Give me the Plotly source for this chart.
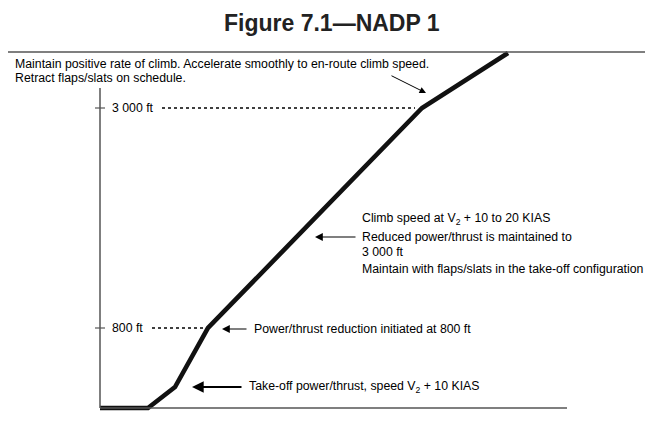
import plotly.graph_objects as go

# Profile data (distance in arbitrary units, altitude in ft)
distance = [0, 48, 75, 108, 322, 408]
altitude = [0, 0, 210, 800, 3000, 3550]

tick_alts = [800, 3000]
tick_labels = ["800 ft", "3 000 ft"]
dot_start = [52, 62]
dot_end = [105, 315]

top_lines = ["Maintain positive rate of climb. Accelerate smoothly to en-route climb speed.",
             "Retract flaps/slats on schedule."]
top_line_alt = [3440, 3300]

right_lines = ["Climb speed at V<sub>2</sub> + 10 to 20 KIAS",
               "Reduced power/thrust is maintained to",
               "3 000 ft",
               "Maintain with flaps/slats in the take-off configuration"]
right_line_alt = [1890, 1710, 1560, 1390]

FONT = "Liberation Sans, Arial, sans-serif"
FS = 12.3
AX = "#555555"

fig = go.Figure()

# dotted reference lines
for a, s, e in zip(tick_alts, dot_start, dot_end):
    fig.add_trace(go.Scatter(x=[s, e], y=[a, a], mode="lines",
                             line=dict(color="black", width=1.5, dash="3px,3px"),
                             hoverinfo="skip", showlegend=False))

# profile
fig.add_trace(go.Scatter(x=distance, y=altitude, mode="lines",
                         line=dict(color="#111111", width=4.6),
                         showlegend=False, hoverinfo="skip"))

shapes = []
# border box
shapes.append(dict(type="line", x0=-93, x1=561, y0=3560, y1=3560, line=dict(color=AX, width=1.3)))
shapes.append(dict(type="line", x0=-93, x1=-93, y0=3560, y1=-150, line=dict(color=AX, width=1.3)))
# axes
shapes.append(dict(type="line", x0=0, x1=0, y0=0, y1=3200, line=dict(color=AX, width=1.5)))
shapes.append(dict(type="line", x0=0, x1=467, y0=0, y1=0, line=dict(color=AX, width=1.5)))
for a in tick_alts:
    shapes.append(dict(type="line", x0=-5, x1=5, y0=a, y1=a, line=dict(color=AX, width=1.2)))

txt = dict(size=FS, color="black", family=FONT)
ann = []
for a, t in zip(tick_alts, tick_labels):
    ann.append(dict(x=10, y=a, text=t, showarrow=False, xanchor="left", yanchor="middle", font=txt))

for a, t in zip(top_line_alt, top_lines):
    ann.append(dict(x=-87, y=a, text=t, showarrow=False, xanchor="left", yanchor="middle", font=txt))
ann.append(dict(x=326, y=3150, ax=290, ay=3330, axref="x", ayref="y", text="", showarrow=True,
                arrowhead=2, arrowsize=1.3, arrowwidth=1, arrowcolor="black"))

for a, t in zip(right_line_alt, right_lines):
    ann.append(dict(x=260, y=a, text=t, showarrow=False, xanchor="left", yanchor="middle", font=txt))
ann.append(dict(x=215, y=1710, ax=257, ay=1710, axref="x", ayref="y", text="", showarrow=True,
                arrowhead=2, arrowsize=1.3, arrowwidth=1.2, arrowcolor="black"))

ann.append(dict(x=152, y=790, xanchor="left", yanchor="middle", showarrow=False,
                text="Power/thrust reduction initiated at 800 ft", font=txt))
ann.append(dict(x=122, y=790, ax=148, ay=790, axref="x", ayref="y", text="", showarrow=True,
                arrowhead=2, arrowsize=1.3, arrowwidth=1.2, arrowcolor="black"))

ann.append(dict(x=147, y=210, xanchor="left", yanchor="middle", showarrow=False,
                text="Take-off power/thrust, speed V<sub>2</sub> + 10 KIAS", font=txt))
ann.append(dict(x=92, y=210, ax=143, ay=210, axref="x", ayref="y", text="", showarrow=True,
                arrowhead=2, arrowsize=1.3, arrowwidth=1.8, arrowcolor="black"))

ann.append(dict(x=323.5 / 653, y=1 - 15.5 / 423, xref="paper", yref="paper", showarrow=False,
                xanchor="center", yanchor="middle", text="<b>Figure 7.1\u2014NADP 1</b>",
                font=dict(size=23, color="#222222", family=FONT)))

fig.update_layout(
    width=653, height=423,
    margin=dict(l=0, r=0, t=0, b=0),
    paper_bgcolor="white", plot_bgcolor="white",
    xaxis=dict(range=[-92, 561], visible=False, fixedrange=True),
    yaxis=dict(range=[-230, 4000], visible=False, fixedrange=True),
    shapes=shapes, annotations=ann,
)

fig.write_html("out.html")
